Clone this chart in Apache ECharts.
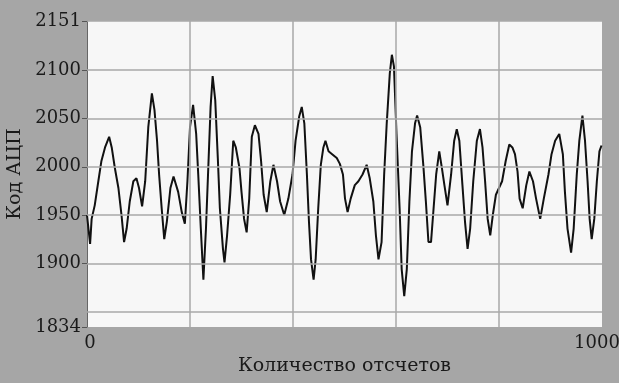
<!DOCTYPE html>
<html>
<head>
<meta charset="utf-8">
<script src="https://cdn.jsdelivr.net/npm/echarts@6/dist/echarts.min.js"></script>
<style>
  html, body { margin: 0; padding: 0; background: #a6a6a6; }
  #chart { width: 619px; height: 383px; }
</style>
</head>
<body>
<div id="chart"></div>
<script>
// samples
const sampleIdx = [
  0, 3, 6, 9, 15, 22, 28, 35, 43, 48, 54, 61, 67, 72, 77, 83, 90, 96, 101, 107,
  113, 119, 126, 131, 136, 140, 145, 150, 155, 162, 168, 171, 177, 184, 190, 195,
  200, 206, 212, 216, 221, 226, 231, 236, 240, 244, 249, 254, 258, 264, 267, 272,
  278, 284, 289, 296, 300, 305, 310, 315, 320, 326, 333, 338, 343, 349, 356, 362,
  369, 375, 383, 391, 399, 405, 412, 417, 422, 427, 431, 435, 440, 444, 449, 454,
  459, 463, 469, 476, 485, 491, 497, 501, 506, 512, 520, 527, 535, 543, 549, 556,
  561, 566, 572, 577, 582, 588, 592, 596, 601, 607, 611, 616, 621, 626, 631, 637,
  641, 647, 653, 658, 663, 668, 673, 678, 684, 689, 694, 700, 707, 713, 718, 723,
  729, 734, 739, 744, 750, 757, 763, 768, 773, 778, 783, 788, 794, 800, 806, 813,
  820, 826, 831, 836, 840, 846, 853, 859, 866, 872, 880, 887, 896, 902, 909, 917,
  924, 928, 933, 940, 945, 951, 956, 962, 967, 972, 976, 980, 985, 990, 995, 999
];
const adcCode = [
  1950, 1935, 1920, 1946, 1960, 1985, 2006, 2020, 2031, 2020, 1999, 1978, 1950, 1922, 1936, 1964, 1985, 1988, 1978, 1959,
  1985, 2041, 2076, 2059, 2027, 1992, 1957, 1925, 1943, 1978, 1990, 1988, 1974, 1953, 1941, 1985,
  2041, 2064, 2034, 1992, 1936, 1883, 1936, 2006, 2062, 2094, 2069, 2009, 1957, 1915, 1901, 1929,
  1971, 2027, 2020, 1999, 1974, 1946, 1932, 1967, 2031, 2043, 2034, 2006, 1971, 1953, 1985, 2002,
  1985, 1964, 1950, 1967, 1992, 2027, 2052, 2062, 2045, 1992, 1943, 1904, 1883, 1904, 1957, 2002,
  2020, 2027, 2016, 2013, 2009, 2003, 1992, 1967, 1953, 1967, 1981, 1985, 1992, 2002, 1988, 1964,
  1929, 1904, 1922, 1992, 2045, 2097, 2116, 2104, 2034, 1957, 1894, 1866, 1894, 1964, 2016, 2045,
  2053, 2041, 2002, 1964, 1922, 1922, 1957, 1992, 2016, 1999, 1981, 1960, 1992, 2027, 2039, 2027,
  1981, 1943, 1915, 1936, 1985, 2027, 2039, 2020, 1985, 1946, 1929, 1950, 1971, 1978, 1985, 2006,
  2023, 2020, 2013, 1995, 1967, 1957, 1981, 1995, 1985, 1967, 1946, 1967, 1992, 2013, 2027, 2034,
  2013, 1974, 1936, 1911, 1936, 1992, 2027, 2053, 2027, 1985, 1946, 1925, 1946, 1985, 2016, 2022
];
const yLabels = [1834, 1900, 1950, 2000, 2050, 2100, 2151];
const xLabels = [0, 1000];
const hGrid = [1850, 1900, 1950, 2000, 2050, 2100, 2151];
const vGrid = [200, 400, 600, 800];

const font = '"DejaVu Serif", serif';
const trace = sampleIdx.map((x, i) => [x, adcCode[i]]);

const chart = echarts.init(document.getElementById('chart'));
chart.setOption({
  backgroundColor: '#a6a6a6',
  animation: false,
  grid: {
    left: 87, right: 17, top: 21, bottom: 56,
    outerBoundsMode: 'none', containLabel: false,
    show: true, backgroundColor: '#f7f7f7', borderWidth: 0
  },
  xAxis: {
    type: 'value', min: 0, max: 1000,
    name: 'Количество отсчетов', nameLocation: 'middle', nameGap: 30,
    nameTextStyle: { fontFamily: font, fontSize: 19, color: '#1a1a1a' },
    axisLine: { show: false },
    axisTick: { show: false },
    splitLine: { show: false },
    axisLabel: {
      customValues: xLabels, fontFamily: font, fontSize: 18, color: '#1a1a1a', margin: 7,
      // nudge the end labels like the original
      formatter: v => (v === 1000 ? '{r|1000}' : '{l|' + v + '}'),
      rich: {
        l: { fontFamily: font, fontSize: 18, color: '#1a1a1a', padding: [0, 0, 0, 6] },
        r: { fontFamily: font, fontSize: 18, color: '#1a1a1a', padding: [0, 10, 0, 0] }
      }
    }
  },
  yAxis: {
    type: 'value', min: 1834, max: 2151,
    name: 'Код АЦП', nameLocation: 'middle', nameGap: 58,
    nameTextStyle: { fontFamily: font, fontSize: 19, color: '#1a1a1a' },
    axisLine: { show: true, lineStyle: { color: '#666', width: 1 } },
    axisTick: { show: true, customValues: yLabels, length: 5, lineStyle: { color: '#555' } },
    splitLine: { show: false },
    axisLabel: {
      customValues: yLabels, fontFamily: font, fontSize: 18, color: '#1a1a1a', margin: 6,
      formatter: v => String(v)
    }
  },
  series: [
    {
      type: 'line', data: [], z: 1, silent: true,
      markLine: {
        silent: true, symbol: 'none', label: { show: false },
        lineStyle: { color: '#a8a8a8', width: 1.5, type: 'solid' },
        data: hGrid.map(v => ({ yAxis: v })).concat(vGrid.map(v => ({ xAxis: v })))
      }
    },
    {
      type: 'line', data: trace, z: 3, showSymbol: false,
      lineStyle: { color: '#111', width: 2 }
    }
  ]
});
</script>
</body>
</html>
